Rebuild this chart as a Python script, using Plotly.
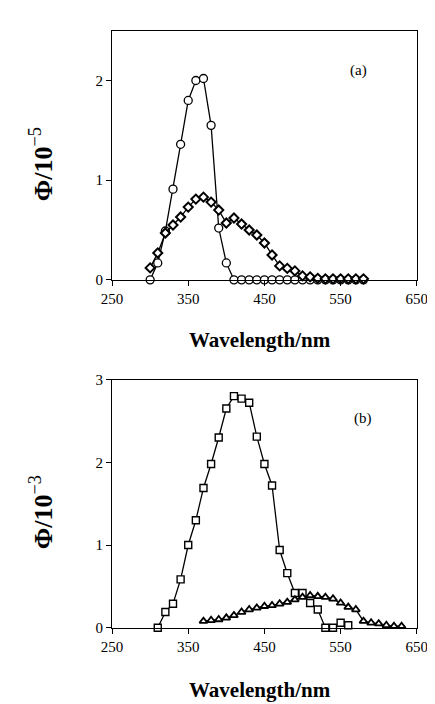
import plotly.graph_objects as go

# Panel (a): quantum yield, units of 1e-5
wl_a = list(range(300, 590, 10))
circ_a = [0.0, 0.17, 0.49, 0.91, 1.36, 1.80, 2.00, 2.02, 1.55, 0.52, 0.17,
          0, 0, 0, 0, 0, 0, 0, 0, 0, 0, 0, 0, 0, 0, 0, 0, 0, 0]
diam_a = [0.12, 0.27, 0.47, 0.55, 0.63, 0.73, 0.81, 0.83, 0.78, 0.70, 0.57,
          0.62, 0.56, 0.50, 0.45, 0.37, 0.25, 0.14, 0.115, 0.09, 0.04, 0.03,
          0.015, 0.01, 0.01, 0.01, 0.01, 0.01, 0.01]

# Panel (b): quantum yield, units of 1e-3
wl_sq = list(range(310, 570, 10))
sq_b = [0.0, 0.19, 0.29, 0.585, 1.00, 1.30, 1.69, 1.98, 2.30, 2.65, 2.80,
        2.77, 2.72, 2.31, 1.98, 1.72, 0.94, 0.66, 0.42, 0.42, 0.30, 0.22,
        0.0, 0.0, 0.06, 0.03]
wl_tri = list(range(370, 640, 10))
tri_b = [0.08, 0.09, 0.10, 0.12, 0.15, 0.19, 0.22, 0.24, 0.26, 0.27, 0.29,
         0.31, 0.34, 0.37, 0.39, 0.38, 0.37, 0.35, 0.30, 0.25, 0.22, 0.08,
         0.06, 0.05, 0.03, 0.02, 0.02]

xticks = [250, 350, 450, 550, 650]
serif = "Liberation Serif"

fig = go.Figure()

line = dict(color="black", width=1.3)
fig.add_trace(go.Scatter(x=wl_a, y=circ_a, mode="lines+markers", line=line,
                         marker=dict(symbol="circle", size=8, color="white",
                                     line=dict(color="black", width=1.3)),
                         cliponaxis=False, xaxis="x", yaxis="y"))
fig.add_trace(go.Scatter(x=wl_a, y=diam_a, mode="lines+markers", line=line,
                         marker=dict(symbol="diamond", size=7, color="white",
                                     line=dict(color="black", width=2)),
                         cliponaxis=False, xaxis="x", yaxis="y"))
fig.add_trace(go.Scatter(x=wl_sq, y=sq_b, mode="lines+markers", line=line,
                         marker=dict(symbol="square", size=7, color="white",
                                     line=dict(color="black", width=1.4)),
                         cliponaxis=False, xaxis="x2", yaxis="y2"))
fig.add_trace(go.Scatter(x=wl_tri, y=tri_b, mode="lines+markers", line=line,
                         marker=dict(symbol="triangle-up", size=7, color="white",
                                     line=dict(color="black", width=1.8)),
                         cliponaxis=False, xaxis="x2", yaxis="y2"))

W, H = 435, 704
xdom = [98 / W, 419 / W]

ax = dict(showgrid=False, zeroline=False, showline=True, mirror=True,
          linecolor="black", linewidth=1.2, ticks="outside", ticklen=5,
          tickcolor="black", tickwidth=1.2,
          tickfont=dict(family=serif, size=15, color="black"))

fig.update_layout(
    width=W, height=H,
    margin=dict(l=0, r=0, t=0, b=0),
    paper_bgcolor="white", plot_bgcolor="white",
    showlegend=False,
    xaxis=dict(ax, domain=xdom, range=[250, 650], tickvals=xticks, anchor="y"),
    yaxis=dict(ax, domain=[(H - 270) / H, (H - 15) / H], range=[0, 2.5],
               tickvals=[0, 1, 2], anchor="x"),
    xaxis2=dict(ax, domain=xdom, range=[250, 650], tickvals=xticks, anchor="y2"),
    yaxis2=dict(ax, domain=[(H - 626) / H, (H - 372) / H], range=[0, 3],
                tickvals=[0, 1, 2, 3], anchor="x2"),
)

title_font = dict(family=serif, size=21, color="black")
ytitle_font = dict(family=serif, size=26, color="black")
ann = [
    dict(x=254, y=H - 332, text="<b>Wavelength/nm</b>", font=title_font),
    dict(x=254, y=H - 690, text="<b>Wavelength/nm</b>", font=title_font),
    dict(x=24, y=H - 152, text="<b>Φ/10</b><sup>−5</sup>", textangle=-90,
         font=ytitle_font),
    dict(x=24, y=H - 508, text="<b>Φ/10</b><sup>−3</sup>", textangle=-90,
         font=ytitle_font),
    dict(x=358, y=H - 56, text="(a)", font=dict(family=serif, size=15, color="black")),
    dict(x=362, y=H - 412, text="(b)", font=dict(family=serif, size=15, color="black")),
]
for a in ann:
    fig.add_annotation(xref="paper", yref="paper", x=a["x"] / W, y=a["y"] / H,
                       text=a["text"], showarrow=False, font=a["font"],
                       textangle=a.get("textangle", 0),
                       xanchor="center", yanchor="middle")

fig.write_html("out.html")
